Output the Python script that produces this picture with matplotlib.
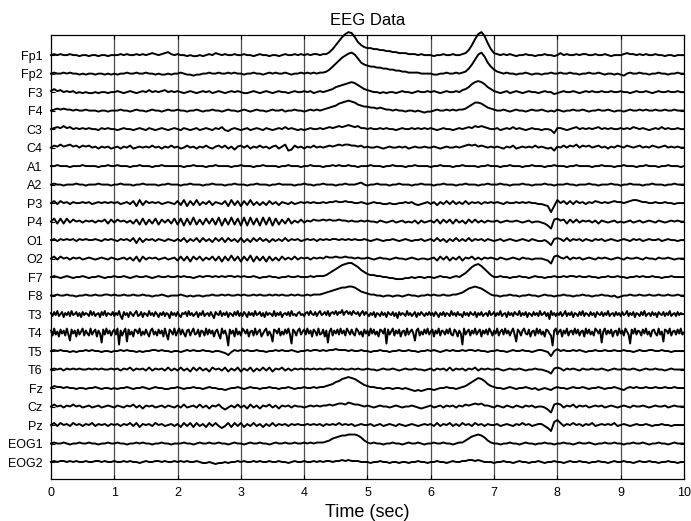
import numpy as np
import matplotlib
matplotlib.use("Agg")
import matplotlib.pyplot as plt

plt.rcParams['font.family'] = ['Liberation Sans', 'DejaVu Sans']

# channel names, top to bottom
channels = ["Fp1", "Fp2", "F3", "F4", "C3", "C4", "A1", "A2", "P3", "P4", "O1", "O2",
            "F7", "F8", "T3", "T4", "T5", "T6", "Fz", "Cz", "Pz", "EOG1", "EOG2"]
xticks = [0, 1, 2, 3, 4, 5, 6, 7, 8, 9, 10]
duration = 10.0
# one channel spacing = 18.5 units of the traces below
spacing_units = 18.5

# traces, 0.05 s steps (T3/T4: 0.025 s), up = positive
fp1 = """
0 1 0 1 0 0 1 0 0 -1 0 0 -1 0 0 -1 0 0 -1 0
0 0 1 0 1 0 0 1 0 1 0 1 2 1 0 1 2 3 1 0
1 0 0 -1 0 -1 -1 0 -1 0 1 0 2 1 0 1 0 0 1 0
0 1 0 0 -1 0 1 0 0 -1 0 0 -1 0 1 0 0 1 0 1
0 1 0 1 1 0 1 1 3 6 10 14 18 21 23 22 18 13 10 8
7 7 6 6 5 5 4 4 3 3 2 2 2 1 1 1 0 1 0 0
0 -1 0 0 1 0 0 1 0 0 1 2 5 10 16 21 23 19 12 6
2 1 0 1 0 1 0 -1 0 0 1 0 0 -1 0 0 1 0 0 -1
0 2 0 1 0 0 1 0 1 1 0 0 1 0 0 1 0 -1 0 0
0 1 2 1 1 0 1 0 1 0 0 1 0 0 -1 0 0 -1 0 0
0"""
fp2 = """
0 1 0 0 1 0 1 0 0 -1 0 -1 0 0 -1 0 0 -1 0 -1
0 -1 0 0 1 0 0 1 0 0 1 0 0 -1 0 -1 -1 0 -1 0
0 1 0 -1 -1 -2 -1 -1 0 0 1 0 0 1 0 0 1 0 1 0
0 -1 0 0 1 0 0 -1 0 1 0 1 0 0 1 0 -1 0 0 1
0 1 0 1 0 1 1 2 4 7 10 13 16 18 20 21 19 15 11 9
8 7 7 6 6 5 5 4 4 3 3 2 2 1 1 1 1 0 0 0
0 -1 -1 0 0 1 0 0 1 0 1 2 5 9 14 19 21 17 11 7
4 2 1 0 1 0 0 -1 0 0 1 0 -1 0 0 -1 0 0 1 0
0 1 0 0 1 0 0 -1 0 0 1 0 0 1 0 -1 0 0 -1 0
-1 -2 0 1 0 0 1 0 0 -1 0 0 1 0 0 -1 0 0 1 0
0"""
f3 = """
1 3 1 2 0 1 0 1 -1 0 -1 0 -1 -1 0 -1 0 0 -1 0
0 1 0 -1 0 1 0 -1 0 1 0 2 0 1 0 1 2 0 1 0
1 0 -1 0 1 0 -1 0 1 0 1 -1 0 1 0 -1 0 1 0 1
0 -1 -1 0 1 0 -1 0 1 0 -1 0 1 0 0 -1 0 1 0 0
1 0 1 -1 0 1 0 1 2 3 5 6 7 8 9 10 9 7 5 3
2 1 0 0 -1 0 -1 0 0 -1 0 1 0 0 -1 0 1 0 0 1
0 1 0 -1 0 1 0 0 1 0 2 3 5 8 10 11 10 8 5 3
1 0 -1 0 1 -1 0 1 0 -1 0 1 0 0 -1 0 1 0 0 -2
-1 0 1 0 0 1 0 -1 0 1 0 1 0 0 1 0 0 1 0 0
1 0 0 -1 0 1 0 0 1 0 -1 0 1 0 0 1 0 0 1 0
0"""
f4 = """
0 1 2 1 2 1 1 0 1 0 0 1 0 0 0 -1 0 0 -1 0
0 0 1 0 0 -1 0 1 0 0 -1 0 1 0 0 -1 0 1 0 0
1 0 0 -1 0 0 1 0 -1 0 0 1 0 0 -1 0 1 0 0 -1
0 1 0 -1 0 1 0 0 -1 0 1 0 0 1 -1 0 0 1 0 0
-1 0 1 0 1 0 1 2 3 4 5 7 8 9 10 9 8 6 5 4
4 3 3 2 3 2 1 1 0 1 0 0 -1 0 0 -1 0 -1 -2 -1
-1 0 1 0 0 1 0 1 0 1 1 2 4 6 8 8 7 5 3 2
1 0 0 1 0 -1 0 1 0 0 -1 0 1 0 0 1 0 -1 0 -1
1 0 -1 0 0 1 0 0 1 0 -1 0 0 1 0 0 1 0 -1 0
0 -1 0 1 0 0 1 0 1 0 0 1 0 0 1 0 0 1 0 0
0"""
c3 = """
0 1 2 1 3 1 2 0 1 0 1 0 1 0 0 -1 1 0 1 0
0 -1 0 1 0 0 -1 0 1 0 -1 1 0 -1 0 1 0 -1 0 1
0 -1 1 0 -1 0 1 -1 0 1 0 -1 1 0 2 -1 -2 0 1 0
-1 0 1 -1 0 1 0 -1 1 0 -1 0 1 0 2 0 1 0 -1 0
-1 0 1 0 0 1 0 1 2 1 2 3 2 3 4 3 2 3 1 1
0 1 0 0 1 0 1 0 0 -1 0 1 0 0 1 0 1 0 1 0
1 0 -1 0 1 0 0 -1 0 1 0 1 2 1 3 2 3 2 1 0
0 1 -1 0 1 0 2 0 1 0 -1 0 1 0 0 -1 0 0 -1 -4
1 1 0 -1 0 1 2 0 1 0 1 0 1 2 0 1 0 1 0 0
1 0 1 0 2 1 0 1 0 -1 0 1 0 2 0 1 0 0 1 0
0"""
c4 = """
0 2 1 3 1 2 3 1 2 0 2 1 2 0 1 -1 1 0 1 -1
0 1 -1 1 0 2 -1 0 1 0 1 0 2 0 1 -1 1 0 2 0
1 -1 0 2 0 1 -1 1 0 2 0 -1 1 2 0 2 -1 1 -2 1
2 0 2 -1 1 0 2 0 1 -1 1 2 -1 1 3 -3 -2 2 0 1
-1 1 0 2 0 1 0 1 2 1 2 3 2 3 3 2 2 1 2 0
1 0 0 1 0 -1 0 1 0 0 1 0 1 -1 0 1 0 0 1 0
0 1 0 -1 0 1 0 0 1 0 1 2 3 2 3 1 2 1 0 1
0 1 0 -1 1 0 2 -1 0 1 0 1 0 2 0 1 0 -1 0 -3
1 0 2 0 2 1 3 0 2 1 2 0 1 2 0 1 -1 1 0 2
1 0 2 1 0 1 2 0 1 0 2 1 0 1 2 0 1 0 1 0
0"""
a1 = """
0 0 1 0 0 0 -1 0 0 0 1 0 0 0 0 -1 0 0 1 0
0 1 0 0 0 -1 0 0 1 0 0 0 -1 0 0 1 0 0 0 0
0 0 -1 0 0 1 0 0 0 -1 0 0 1 0 0 0 0 -1 0 0
1 0 0 0 -1 0 0 1 0 0 0 0 -1 0 0 1 0 0 0 -1
0 0 1 0 0 0 -1 0 0 1 0 1 0 0 1 0 0 -1 0 0
0 1 0 0 0 -1 0 0 1 0 0 0 -1 0 0 1 0 0 0 0
-1 0 0 1 0 0 0 -1 0 0 1 0 0 0 0 -1 0 0 1 0
0 0 -1 0 0 1 0 0 0 -1 0 0 1 0 0 0 -1 0 0 1
0 0 0 -1 0 0 1 0 0 0 0 -1 0 0 1 0 0 0 -1 0
0 1 0 0 0 -1 0 0 1 0 0 0 -1 0 0 1 0 0 0 -1
0"""
a2 = """
0 1 0 0 -1 0 0 0 1 0 0 -1 0 0 0 1 0 0 0 -1
0 0 1 0 0 0 -1 0 0 1 0 0 0 0 -1 0 0 1 0 0
0 -1 0 0 1 0 0 0 -1 0 0 1 0 0 0 -1 0 0 1 0
0 0 -1 0 0 1 0 0 0 -1 0 0 1 0 0 0 0 -1 0 0
1 0 0 -1 0 0 1 0 0 0 -1 0 0 1 0 0 0 1 2 0
-1 0 0 1 0 0 0 -1 0 0 1 0 0 0 -1 0 0 1 0 0
0 -1 0 0 1 0 0 0 -1 0 0 1 0 0 0 -1 0 0 1 0
0 0 1 0 0 -1 0 0 0 1 0 0 -1 0 0 0 1 0 0 -1
0 0 0 1 0 0 -1 0 0 0 1 0 0 -1 0 0 0 1 0 0
-1 0 0 1 0 0 0 -1 0 0 1 0 0 0 -1 0 0 1 0 0
0"""
p3 = """
0 2 -1 2 0 1 -1 1 0 0 1 0 1 -1 0 1 0 1 0 1
0 1 -1 0 1 -1 2 -3 3 -2 2 0 1 0 1 -1 0 1 0 -1
2 -2 3 -3 2 -2 3 -2 1 -1 2 -2 1 0 -1 2 -3 3 -2 2
-3 2 -2 3 -2 1 -2 1 -2 2 -1 1 -2 1 0 -1 1 -1 0 1
0 1 0 1 0 0 1 0 1 1 2 1 1 2 1 1 0 0 1 0
-1 0 1 0 0 -1 -1 0 -1 -1 0 0 1 0 1 -1 -2 -1 0 1
-1 1 -2 1 -1 2 -1 2 -1 1 -1 2 -1 1 0 1 -1 1 0 1
0 1 0 -1 1 0 0 1 0 1 0 1 0 0 -1 -1 -2 -3 -9 -3
3 0 2 -1 2 -1 2 0 1 -1 1 0 2 1 0 1 0 1 2 1
1 0 1 2 3 3 2 1 1 0 0 1 0 0 1 0 0 -1 0 0
0"""
p4 = """
0 3 -2 3 -2 3 -1 2 0 1 -1 1 0 1 -1 1 0 2 -2 2
-1 2 0 1 -1 1 -2 2 -3 3 -3 2 -2 3 -3 2 -1 2 -2 3
-3 3 -4 3 -3 4 -3 2 -3 3 -2 3 -3 4 -4 3 -3 4 -3 3
-4 4 -4 4 -3 3 -4 4 -3 4 -4 3 -3 2 -2 3 -2 1 -1 2
-1 1 0 2 1 1 2 1 2 1 1 2 1 1 0 1 0 0 1 0
1 0 0 -1 1 0 -1 0 1 -1 0 1 -1 0 -1 1 -2 1 -1 0
1 -1 2 -2 2 -1 2 -2 2 -1 1 -2 2 -1 2 -1 1 -1 1 0
0 1 -1 0 1 0 0 1 0 -1 0 1 -1 0 0 -1 -2 -4 -7 2
3 1 2 -2 2 -1 2 -1 1 0 1 -1 1 -2 1 0 -1 0 1 -1
0 -1 0 1 -1 0 1 -1 0 1 0 -1 1 0 -1 0 1 0 1 0
0"""
o1 = """
0 1 -1 1 0 1 0 1 -1 1 0 1 0 0 1 0 -1 1 0 1
0 -1 1 0 1 -1 2 -3 2 -2 1 0 1 -1 1 0 -1 1 0 -1
1 -1 2 -2 1 -1 2 -2 2 -1 1 -2 2 -1 2 -2 2 -1 1 -2
2 -2 1 -2 2 -1 2 -1 1 -2 1 -1 1 -1 2 -1 1 0 1 -1
0 1 0 1 -1 1 0 1 0 1 1 0 1 0 1 0 1 0 0 1
0 -1 0 1 0 -1 0 0 1 0 -1 0 1 0 -1 0 0 1 -1 0
1 -1 2 -1 1 -2 1 -1 2 -1 1 -1 2 -1 1 0 1 -1 1 0
-1 0 1 -1 0 1 0 -1 0 1 0 -1 1 0 -1 -1 0 -2 -5 1
2 1 -1 2 -1 1 0 1 -1 1 0 -1 1 0 1 -1 0 1 0 -1
0 1 0 -1 1 0 1 -1 0 1 0 0 1 -1 0 1 0 0 -1 0
0"""
o2 = """
0 2 -1 2 0 1 -1 1 0 1 -1 0 1 0 -1 0 1 0 -1 1
0 -1 0 1 -1 1 -2 2 -3 2 -1 1 0 1 -1 0 1 -1 0 1
-2 2 -2 2 -3 2 -1 2 -2 1 -1 2 -2 2 -3 2 -2 3 -2 2
-3 2 -2 3 -3 2 -2 2 -3 2 -2 1 -2 2 -1 1 -1 2 -1 1
0 1 -1 1 0 1 0 2 1 1 2 1 1 2 1 1 0 1 0 0
1 0 -1 0 1 0 0 -1 0 1 0 0 -1 0 1 0 -1 0 0 -1
0 1 -2 2 -1 2 -2 1 -1 2 -2 1 0 2 -1 1 -1 1 0 1
0 -1 1 0 -1 0 1 0 -1 1 0 0 -1 0 0 0 -1 -2 -5 2
3 1 0 2 -1 1 0 1 -1 0 1 0 -1 1 0 1 0 -1 0 1
0 -1 1 0 0 1 0 -1 1 0 0 -1 1 0 0 1 0 -1 0 0
0"""
f7 = """
0 1 0 -1 0 1 0 -1 0 0 1 0 -1 0 0 1 0 -1 0 0
1 0 0 1 0 -1 0 1 0 0 1 0 -1 0 1 0 0 1 0 0
1 0 1 0 0 -1 0 1 0 1 1 0 1 0 1 0 1 1 0 1
0 1 0 0 1 0 -1 0 0 1 0 0 -1 0 0 1 0 0 1 0
0 0 1 0 1 1 1 2 4 6 8 10 12 13 14 14 12 10 7 5
3 2 2 1 1 0 0 -1 -1 -2 -2 -2 -1 -1 0 -1 0 0 -1 0
0 -1 0 1 0 0 -1 0 1 0 2 4 7 10 12 13 11 8 5 2
0 0 1 0 0 -1 0 0 1 0 0 -1 0 1 0 0 -1 0 0 1
0 0 1 0 1 1 0 1 0 0 1 0 0 -1 0 0 1 0 0 1
0 0 -1 0 0 1 0 1 0 0 1 0 0 -1 0 0 1 0 0 0
0"""
f8 = """
0 0 1 0 0 1 0 0 -1 0 0 1 0 0 1 0 0 1 1 0
1 0 0 1 0 0 1 0 0 1 0 0 -1 0 0 1 0 -1 0 0
0 1 0 -1 0 -1 0 0 -1 0 0 1 0 0 1 0 1 0 0 1
0 1 0 0 1 0 1 0 0 1 0 1 0 1 0 0 1 0 1 0
0 1 0 1 1 1 2 3 4 5 6 7 8 8 9 9 8 6 4 3
2 1 1 0 0 -1 0 0 -1 0 0 -1 0 1 0 0 -1 0 0 1
0 1 0 0 1 0 0 1 1 2 3 5 7 8 9 8 7 5 3 1
0 0 -1 0 0 1 0 0 -1 0 0 1 0 0 -1 0 1 0 0 -1
0 0 1 0 0 -1 0 0 1 0 0 -1 0 0 1 0 0 -1 0 -2
-1 0 0 1 0 0 1 0 0 1 0 0 1 0 0 1 0 0 1 0
0"""
t3 = """
1 -2 2 -1 3 -2 0 2 -3 1 -1 2 -2 3 -1 0 2 -2 1 -3 2 -1 1 0 -2 3 -1 2 -2 0 1 -3 2 -1 3 -2 1 0 -1 2
-2 1 -1 3 -2 -5 2 -1 1 -3 2 0 -2 1 3 -2 -1 2 -3 1 0 -2 3 -1 1 -2 2 0 -3 1 -1 2 -2 1 0 -4 2 -1 1 -2
2 -1 -3 1 0 2 -2 3 -1 1 -2 0 2 -3 1 -1 3 -2 0 1 -2 2 -1 -4 2 0 -1 3 -2 1 -1 2 -3 1 0 -2 2 -1 3 -2
1 -2 2 0 -3 2 -1 1 -2 3 -1 0 2 -2 1 -3 2 -1 1 0 -2 3 -2 1 -1 2 -3 0 1 -1 2 -2 3 -1 0 -2 1 2 -1 0
-2 1 2 -1 3 0 -1 2 -2 1 3 -1 0 2 -1 3 -2 1 2 0 3 -1 2 1 4 -1 2 3 0 2 -1 3 1 0 2 -2 1 3 -1 2
0 -2 1 -1 2 -3 1 0 -2 2 -1 1 -3 2 0 -1 2 -2 1 -4 2 -1 1 0 -2 3 -1 1 -2 0 2 -3 1 -1 2 0 -2 1 -1 2
-1 1 -2 2 0 -3 1 -1 2 -2 1 0 -2 3 -1 1 -2 2 -1 0 -3 2 -1 1 -2 2 0 -1 2 -3 1 -1 2 -2 0 1 -2 3 -1 0
2 -2 1 -1 3 -2 0 1 -3 2 -1 1 -2 2 0 -1 3 -2 1 -1 2 -3 1 0 -2 2 -1 1 -2 3 -1 0 2 -2 1 -5 3 -1 1 -2
1 -1 2 -2 0 3 -2 1 -1 2 -3 1 0 -2 2 -1 3 -2 1 0 -2 2 -1 1 -3 2 0 -1 2 -2 1 -1 3 -2 0 1 -2 2 -1 1
-2 2 -1 0 3 -2 1 -1 2 -3 1 0 -2 2 -1 3 -2 0 1 -2 2 -1 1 -3 2 0 -1 2 -2 1 -1 3 -2 0 1 -2 2 -1 1 0
0"""
t4 = """
2 -3 4 -2 1 -4 3 -1 2 -3 4 -2 -8 3 -1 2 -4 3 -2 1 4 -3 2 -1 -3 4 -2 1 3 -4 2 -1 -10 3 -2 4 -1 2 -3 1
3 -2 4 -12 2 -3 1 4 -9 3 -2 1 -4 3 2 -1 4 -3 1 -2 3 -1 -4 2 4 -2 1 -3 3 -1 2 -4 4 -2 -7 3 1 -2 4 -3
1 4 -2 3 -1 -4 2 3 -3 1 4 -2 -1 3 -4 2 1 -3 4 -2 3 -1 2 -4 1 3 -2 -6 4 -1 2 -3 -13 3 -1 2 -4 4 -2 1
-3 4 2 -1 3 -4 1 2 -3 4 -2 1 3 -4 -1 2 4 -3 1 -2 -9 3 2 -1 4 -3 1 -2 3 -1 4 -2 -11 3 1 -3 2 4 -2 1
3 -2 4 -1 2 -4 3 1 -3 4 -2 -1 3 -4 2 -10 1 4 -3 2 -1 3 -2 4 -1 2 -3 4 1 -2 3 -1 -3 4 2 -2 1 -4 3 -1
2 -3 4 -1 3 -2 1 -4 3 2 -1 4 -11 3 -2 1 4 -3 2 -1 3 -4 1 2 -3 4 -2 1 3 -1 -8 2 4 -3 1 -2 3 -1 4 -2
1 3 -4 2 -1 4 -3 2 1 -2 3 -1 4 -2 -3 3 1 -4 2 -1 -12 4 -2 1 3 -3 2 -1 4 -2 1 3 -4 2 -1 3 -2 4 1 -3
2 -1 4 -3 1 3 -2 4 -1 2 -3 1 4 -2 -9 3 1 -3 2 4 -1 -2 3 -4 1 2 -3 4 -1 3 -2 1 -4 3 2 -1 -3 -13 2 4
-2 1 3 -4 2 -1 4 -3 1 2 -2 4 -1 3 -3 1 2 -4 4 -1 3 -2 1 -3 4 2 -1 3 -10 1 4 -2 2 -1 3 -4 1 2 -3 4
-1 2 -3 4 1 -2 -11 3 -1 4 -2 2 1 -3 3 -1 4 -2 1 -4 2 3 -1 -3 4 -2 1 -9 3 2 -1 4 -3 1 2 -2 3 -1 4 -2
0"""
t5 = """
0 1 0 1 0 0 -1 0 -1 0 0 1 0 1 0 0 -1 0 0 -1
0 0 1 0 1 0 0 -1 0 -1 0 0 1 1 0 1 0 0 -1 0
0 -1 0 1 0 1 0 0 1 0 0 -1 0 0 -1 -2 -4 -1 1 0
1 0 1 0 0 1 0 0 -1 0 0 1 0 1 0 0 1 0 -1 0
0 1 0 1 1 0 1 0 1 1 2 1 1 1 0 1 0 0 1 0
0 -1 0 0 1 0 0 -1 0 0 1 0 0 1 0 0 -1 0 0 1
0 1 0 -1 0 1 0 1 0 0 1 0 1 1 0 1 0 0 -1 0
0 1 0 0 -1 0 1 0 0 1 0 0 -1 0 1 1 0 -1 -5 0
2 0 1 0 0 1 0 1 0 -1 0 0 1 0 0 1 0 0 1 0
0 1 0 0 -1 0 1 0 0 1 1 0 0 1 0 0 -1 0 0 0
0"""
t6 = """
0 1 0 1 -1 1 0 1 0 1 0 0 1 0 1 0 1 0 0 1
0 1 -1 1 0 2 -1 1 0 1 -1 2 -1 1 0 1 -1 2 -1 1
-1 2 -1 1 -2 2 -1 2 -1 1 -2 2 0 1 -1 2 -2 1 -1 2
-2 1 -1 2 -2 1 -1 2 -1 2 -2 1 0 2 -1 1 -1 1 0 1
0 1 0 1 0 1 0 1 1 0 1 0 1 0 0 1 0 1 0 0
1 0 0 -1 0 1 0 0 1 0 -1 0 1 0 0 1 0 0 -1 0
1 -1 1 0 1 -1 2 -1 1 0 1 -1 1 0 2 -1 1 0 1 0
0 1 0 -1 0 1 0 0 1 0 -1 0 0 1 0 0 -1 -2 -4 1
2 1 -1 1 0 1 0 -1 1 0 0 1 0 0 1 0 -1 0 1 0
0 1 0 0 1 0 -1 0 1 0 0 1 0 0 -1 0 1 0 0 0
0"""
fz = """
0 2 1 1 0 1 0 0 -1 0 0 -1 0 0 1 0 -1 0 0 -1
0 -1 0 0 1 0 -1 0 0 1 0 -1 0 1 0 0 -1 -1 0 0
1 0 -1 0 0 1 0 0 -1 0 1 0 0 -1 -1 -2 -1 0 0 1
0 -1 0 1 0 0 -1 0 0 1 0 0 -1 0 0 1 0 -1 0 0
1 0 0 1 0 1 1 2 3 4 6 7 9 10 11 10 9 7 5 3
2 1 1 0 0 -1 0 0 -1 0 0 -1 0 -1 -2 -3 -2 -3 -2 -1
-1 -2 -1 0 0 1 0 0 -1 0 1 2 4 6 8 10 9 7 4 2
1 0 0 -1 0 1 0 -1 0 0 1 0 -1 0 -2 -1 0 -1 -2 0
1 0 0 -1 0 1 0 0 1 0 -1 0 0 1 0 -1 0 0 1 0
-1 -2 0 1 0 1 0 0 1 0 0 1 0 0 1 0 0 1 0 0
0"""
cz = """
0 2 0 1 -1 1 0 2 0 1 -1 0 1 -1 0 1 -1 0 1 0
-1 1 0 -1 1 0 2 -1 1 -2 1 0 1 -1 0 1 -1 1 0 -1
1 -1 2 -1 0 1 -1 2 -1 1 -2 1 0 2 -1 -3 -1 1 -1 2
-1 1 -2 2 -1 1 -2 1 0 2 -1 1 -2 1 0 1 -1 1 0 0
-1 0 1 0 1 0 1 1 2 1 2 3 3 2 4 3 2 2 1 0
1 0 -1 0 1 0 0 -1 0 1 0 -1 0 0 1 0 -1 -2 -1 0
1 -1 0 1 -1 1 0 1 -1 1 0 2 1 2 3 2 3 1 1 0
-1 1 0 -1 1 0 -1 1 0 -1 1 0 1 -1 0 0 -1 -3 -6 2
3 2 -1 1 0 2 -1 1 0 1 -1 0 1 0 1 -1 0 1 0 -1
0 1 0 -1 1 0 0 1 0 -1 0 1 0 0 1 -1 0 1 0 0
0"""
pz = """
0 2 -1 2 0 1 -1 2 0 1 -1 1 0 2 -1 1 0 1 -1 1
0 1 -1 1 0 2 -1 2 -2 1 0 1 -1 2 0 1 -1 0 1 -1
1 -2 2 -1 2 -2 2 -1 1 -2 2 -1 2 -1 -3 -1 2 -2 2 -1
2 -2 1 -1 2 -1 1 -2 1 -1 2 -1 1 0 1 -1 1 0 1 0
0 1 0 1 0 1 -1 1 0 1 0 2 0 1 0 1 -1 0 1 0
0 1 -1 0 1 -1 0 1 0 -1 1 0 -1 0 1 0 -1 0 1 0
1 -1 2 -1 1 0 2 -1 1 -1 2 0 1 -1 2 0 1 -1 1 0
0 1 -1 0 1 0 -1 1 0 2 0 1 -1 0 1 1 -1 -3 -6 3
5 2 -1 1 0 2 0 1 -1 1 0 2 -1 0 1 0 1 0 2 -1
0 1 0 -1 0 1 0 0 1 0 -1 0 0 1 0 0 -1 0 0 0
0"""
eog1 = """
0 1 0 0 1 0 -1 0 0 1 0 0 1 0 0 -1 0 0 1 0
0 1 0 0 -1 0 0 1 0 1 0 0 -1 0 0 1 0 0 -1 0
0 0 1 0 0 -1 0 1 0 0 1 0 0 1 0 0 -1 0 1 0
0 -1 0 1 0 0 1 0 0 -1 0 1 0 0 1 0 0 1 0 0
1 0 1 0 1 1 1 2 3 5 6 7 8 8 9 9 9 8 6 3
1 0 1 0 0 -1 0 0 1 0 0 -1 0 1 0 0 1 0 -1 0
0 1 0 0 1 0 0 -1 0 1 1 3 5 7 8 9 8 6 3 1
0 0 -1 0 0 1 0 0 -1 0 1 0 0 -1 0 0 1 0 0 -1
0 0 1 0 0 -1 0 1 0 0 1 0 -1 0 0 1 0 0 1 0
0 -1 0 0 1 0 0 1 0 -1 0 0 1 0 0 -1 0 1 0 0
0"""
eog2 = """
0 1 0 1 1 0 1 0 1 0 0 1 0 0 1 1 0 1 0 0
1 0 0 1 0 1 0 0 -1 0 1 0 0 1 1 0 1 0 0 1
0 1 0 1 0 0 1 0 -1 -1 0 -1 -2 -1 -1 0 -1 0 0 1
0 1 0 0 1 0 1 0 0 1 0 0 1 0 0 -1 0 1 0 0
1 0 0 1 0 1 0 1 1 0 1 1 2 1 2 1 1 1 0 0
0 -1 0 0 1 0 0 -1 0 0 -1 0 0 -1 0 0 1 0 0 -1
0 0 1 0 0 -1 0 1 0 0 1 1 2 2 1 2 1 0 0 0
-1 0 0 1 0 0 -1 0 1 0 0 -1 0 0 1 0 -1 0 0 1
0 0 -1 0 1 0 0 1 0 0 -1 0 0 1 0 0 -1 0 1 0
0 1 0 0 -1 0 1 0 0 1 0 0 -1 0 0 1 0 0 -1 0
0"""

traces = [fp1, fp2, f3, f4, c3, c4, a1, a2, p3, p4, o1, o2,
          f7, f8, t3, t4, t5, t6, fz, cz, pz, eog1, eog2]

fig = plt.figure(figsize=(6.91, 5.21), dpi=100)
ax = fig.add_axes([0.0738, 0.0806, 0.916, 0.852])

n = len(channels)
offsets = np.arange(n, 0, -1)

for off, tr in zip(offsets, traces):
    v = np.array(tr.split(), dtype=float)
    t = np.linspace(0, duration, len(v))
    ax.plot(t, off + v / spacing_units, color='black', lw=1.4, clip_on=False)

for x in xticks[1:-1]:
    ax.axvline(x, color='0.3', lw=0.9, zorder=0)

ax.set_xlim(0, duration)
ax.set_ylim(1 - 17 / spacing_units, n + 20 / spacing_units)
ax.set_xticks(xticks)
ax.set_yticks(offsets)
ax.set_yticklabels(channels)
ax.tick_params(axis='both', direction='in', length=3, labelsize=9, pad=6)
ax.tick_params(axis='x', top=True)
ax.tick_params(axis='y', right=True)
for s in ax.spines.values():
    s.set_linewidth(0.9)

ax.set_title("EEG Data", fontsize=12, pad=7)
ax.set_xlabel("Time (sec)", fontsize=13, labelpad=3)

fig.savefig("out.png", dpi=100)
